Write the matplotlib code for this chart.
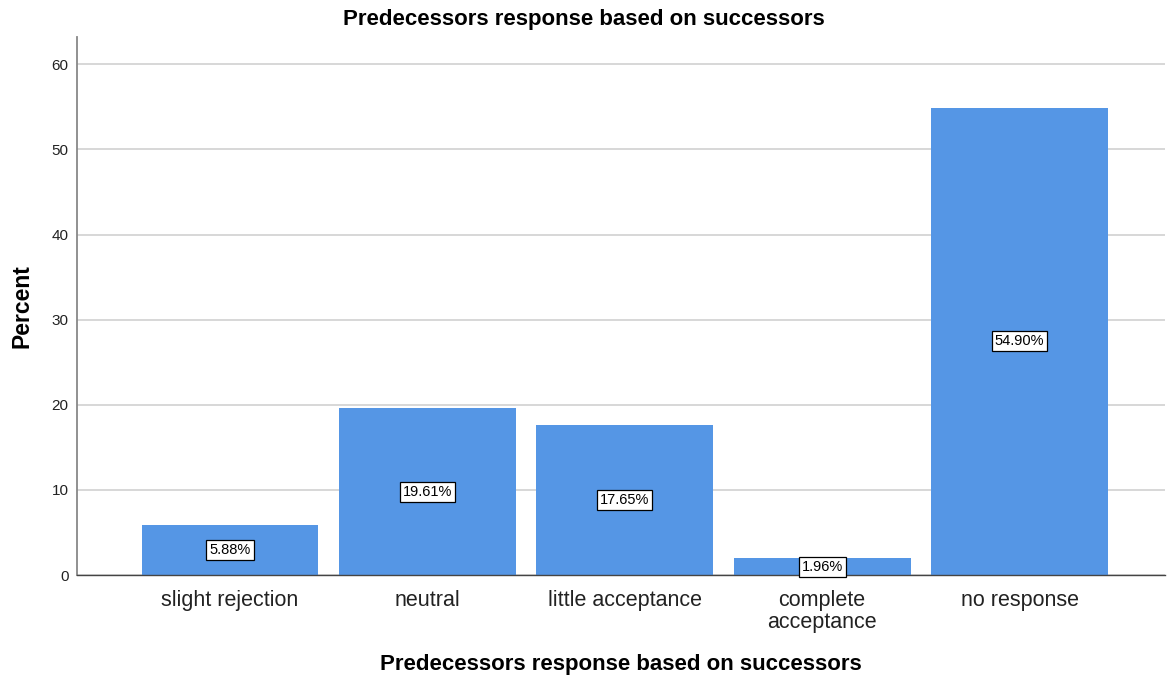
import matplotlib
matplotlib.use("Agg")
import matplotlib.pyplot as plt

plt.rcParams['font.family'] = ['Liberation Sans', 'DejaVu Sans']

categories = ["slight rejection", "neutral", "little acceptance", "complete\nacceptance", "no response"]
percents = [5.88, 19.61, 17.65, 1.96, 54.90]
yticks = [0, 10, 20, 30, 40, 50, 60]

fig = plt.figure(figsize=(11.67, 6.79), dpi=100)
ax = fig.add_axes([0.066, 0.153, 0.932, 0.7925])

x = range(len(categories))
ax.bar(x, percents, width=0.895, color="#5596E5", zorder=2)

for xi, v in zip(x, percents):
    ax.text(xi, v / 2, f"{v:.2f}%", ha="center", va="center", fontsize=10.5,
            zorder=3,
            bbox=dict(boxstyle="square,pad=0.2", facecolor="white",
                      edgecolor="black", linewidth=0.9))

ax.set_xlim(-0.775, 4.735)
ax.set_ylim(0, 63.2)
ax.set_yticks(yticks)
ax.set_xticks(list(x))
ax.set_xticklabels(categories, fontsize=15.5, color="#222222", linespacing=1.05)
ax.tick_params(axis="x", length=0, pad=11)
ax.tick_params(axis="y", length=0, pad=6, labelsize=11, labelcolor="#222222")

ax.yaxis.grid(True, color="#d4d4d4", linewidth=1.3, zorder=0)
ax.set_axisbelow(True)

for s in ("top", "right"):
    ax.spines[s].set_visible(False)
ax.spines["left"].set_color("#888888")
ax.spines["left"].set_linewidth(1.3)
ax.spines["bottom"].set_color("#444444")
ax.spines["bottom"].set_linewidth(1.0)

ax.set_ylabel("Percent", fontsize=16.5, fontweight="bold", labelpad=13)
ax.set_xlabel("Predecessors response based on successors", fontsize=16,
              fontweight="bold", labelpad=15)
fig.text(0.5, 0.972, "Predecessors response based on successors", ha="center",
         va="center", fontsize=16, fontweight="bold")

fig.savefig("out.png", dpi=100, facecolor="white")
